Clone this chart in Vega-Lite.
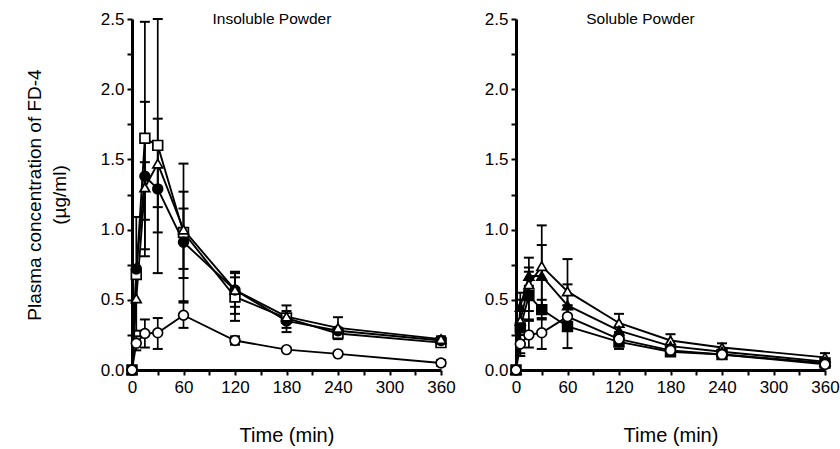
{
  "$schema": "https://vega.github.io/schema/vega-lite/v6.json",
  "background": "white",
  "padding": {"left": 25, "top": 10, "right": 0, "bottom": 5},
  "spacing": 28,
  "config": {
    "view": {"stroke": null},
    "font": "Liberation Sans",
    "axis": {
      "grid": false,
      "domainColor": "black",
      "domainWidth": 3,
      "tickColor": "black",
      "tickWidth": 2,
      "tickSize": 5,
      "labelFont": "Liberation Sans",
      "labelFontSize": 17,
      "labelColor": "black",
      "titleFont": "Liberation Sans",
      "titleFontSize": 19,
      "titleFontWeight": "normal",
      "titleColor": "black"
    }
  },
  "datasets": {
    "pts": [
      {"panel": "L", "series": "sq", "t": 0, "c": 0},
      {"panel": "L", "series": "sq", "t": 5, "c": 0.68},
      {"panel": "L", "series": "sq", "t": 15, "c": 1.65},
      {"panel": "L", "series": "sq", "t": 30, "c": 1.6},
      {"panel": "L", "series": "sq", "t": 60, "c": 0.98},
      {"panel": "L", "series": "sq", "t": 120, "c": 0.52},
      {"panel": "L", "series": "sq", "t": 180, "c": 0.37},
      {"panel": "L", "series": "sq", "t": 240, "c": 0.26},
      {"panel": "L", "series": "sq", "t": 360, "c": 0.195},
      {"panel": "L", "series": "fc", "t": 0, "c": 0},
      {"panel": "L", "series": "fc", "t": 5, "c": 0.72},
      {"panel": "L", "series": "fc", "t": 15, "c": 1.38},
      {"panel": "L", "series": "fc", "t": 30, "c": 1.29},
      {"panel": "L", "series": "fc", "t": 60, "c": 0.91},
      {"panel": "L", "series": "fc", "t": 120, "c": 0.57},
      {"panel": "L", "series": "fc", "t": 180, "c": 0.35},
      {"panel": "L", "series": "fc", "t": 240, "c": 0.28},
      {"panel": "L", "series": "fc", "t": 360, "c": 0.21},
      {"panel": "L", "series": "ot", "t": 0, "c": 0},
      {"panel": "L", "series": "ot", "t": 5, "c": 0.51},
      {"panel": "L", "series": "ot", "t": 15, "c": 1.3},
      {"panel": "L", "series": "ot", "t": 30, "c": 1.47},
      {"panel": "L", "series": "ot", "t": 60, "c": 1.0},
      {"panel": "L", "series": "ot", "t": 120, "c": 0.57},
      {"panel": "L", "series": "ot", "t": 180, "c": 0.38},
      {"panel": "L", "series": "ot", "t": 240, "c": 0.3},
      {"panel": "L", "series": "ot", "t": 360, "c": 0.22},
      {"panel": "L", "series": "oc", "t": 0, "c": 0},
      {"panel": "L", "series": "oc", "t": 5, "c": 0.19},
      {"panel": "L", "series": "oc", "t": 15, "c": 0.26},
      {"panel": "L", "series": "oc", "t": 30, "c": 0.265},
      {"panel": "L", "series": "oc", "t": 60, "c": 0.39},
      {"panel": "L", "series": "oc", "t": 120, "c": 0.21},
      {"panel": "L", "series": "oc", "t": 180, "c": 0.145},
      {"panel": "L", "series": "oc", "t": 240, "c": 0.115},
      {"panel": "L", "series": "oc", "t": 360, "c": 0.05},
      {"panel": "R", "series": "ot", "t": 0, "c": 0},
      {"panel": "R", "series": "ot", "t": 5, "c": 0.35},
      {"panel": "R", "series": "ot", "t": 15, "c": 0.61},
      {"panel": "R", "series": "ot", "t": 30, "c": 0.74},
      {"panel": "R", "series": "ot", "t": 60, "c": 0.56},
      {"panel": "R", "series": "ot", "t": 120, "c": 0.335},
      {"panel": "R", "series": "ot", "t": 180, "c": 0.21},
      {"panel": "R", "series": "ot", "t": 240, "c": 0.16},
      {"panel": "R", "series": "ot", "t": 360, "c": 0.09},
      {"panel": "R", "series": "ft", "t": 0, "c": 0},
      {"panel": "R", "series": "ft", "t": 5, "c": 0.45},
      {"panel": "R", "series": "ft", "t": 15, "c": 0.67},
      {"panel": "R", "series": "ft", "t": 30, "c": 0.67},
      {"panel": "R", "series": "ft", "t": 60, "c": 0.46},
      {"panel": "R", "series": "ft", "t": 120, "c": 0.28},
      {"panel": "R", "series": "ft", "t": 180, "c": 0.17},
      {"panel": "R", "series": "ft", "t": 240, "c": 0.13},
      {"panel": "R", "series": "ft", "t": 360, "c": 0.06},
      {"panel": "R", "series": "fs", "t": 0, "c": 0},
      {"panel": "R", "series": "fs", "t": 5, "c": 0.3},
      {"panel": "R", "series": "fs", "t": 15, "c": 0.53},
      {"panel": "R", "series": "fs", "t": 30, "c": 0.43},
      {"panel": "R", "series": "fs", "t": 60, "c": 0.31},
      {"panel": "R", "series": "fs", "t": 120, "c": 0.2},
      {"panel": "R", "series": "fs", "t": 180, "c": 0.13},
      {"panel": "R", "series": "fs", "t": 240, "c": 0.11},
      {"panel": "R", "series": "fs", "t": 360, "c": 0.05},
      {"panel": "R", "series": "oc", "t": 0, "c": 0},
      {"panel": "R", "series": "oc", "t": 5, "c": 0.185},
      {"panel": "R", "series": "oc", "t": 15, "c": 0.25},
      {"panel": "R", "series": "oc", "t": 30, "c": 0.265},
      {"panel": "R", "series": "oc", "t": 60, "c": 0.38},
      {"panel": "R", "series": "oc", "t": 120, "c": 0.22},
      {"panel": "R", "series": "oc", "t": 180, "c": 0.14},
      {"panel": "R", "series": "oc", "t": 240, "c": 0.11},
      {"panel": "R", "series": "oc", "t": 360, "c": 0.04}
    ],
    "err": [
      {"panel": "L", "series": "sq", "t": 5, "lo": 0.28, "hi": 1.09},
      {"panel": "L", "series": "sq", "t": 15, "lo": 0.81, "hi": 2.48},
      {"panel": "L", "series": "fc", "t": 15, "lo": 0.86, "hi": 1.91},
      {"panel": "L", "series": "ot", "t": 15, "lo": 1.07, "hi": 1.48},
      {"panel": "L", "series": "sq", "t": 30, "lo": 0.69, "hi": 2.5},
      {"panel": "L", "series": "ot", "t": 30, "lo": 1.16, "hi": 1.79},
      {"panel": "L", "series": "fc", "t": 30, "lo": 0.98, "hi": 1.6},
      {"panel": "L", "series": "sq", "t": 60, "lo": 0.49, "hi": 1.47},
      {"panel": "L", "series": "ot", "t": 60, "lo": 0.72, "hi": 1.27},
      {"panel": "L", "series": "fc", "t": 60, "lo": 0.655, "hi": 1.15},
      {"panel": "L", "series": "oc", "t": 5, "lo": 0.14, "hi": 0.24},
      {"panel": "L", "series": "oc", "t": 15, "lo": 0.16, "hi": 0.36},
      {"panel": "L", "series": "oc", "t": 30, "lo": 0.15, "hi": 0.37},
      {"panel": "L", "series": "oc", "t": 60, "lo": 0.3, "hi": 0.48},
      {"panel": "L", "series": "sq", "t": 120, "lo": 0.35, "hi": 0.7},
      {"panel": "L", "series": "fc", "t": 120, "lo": 0.45, "hi": 0.69},
      {"panel": "L", "series": "ot", "t": 120, "lo": 0.4, "hi": 0.66},
      {"panel": "L", "series": "oc", "t": 120, "lo": 0.18, "hi": 0.24},
      {"panel": "L", "series": "sq", "t": 180, "lo": 0.27, "hi": 0.46},
      {"panel": "L", "series": "fc", "t": 180, "lo": 0.3, "hi": 0.42},
      {"panel": "L", "series": "ot", "t": 240, "lo": 0.24, "hi": 0.376},
      {"panel": "L", "series": "sq", "t": 240, "lo": 0.22, "hi": 0.3},
      {"panel": "L", "series": "sq", "t": 360, "lo": 0.17, "hi": 0.23},
      {"panel": "L", "series": "ot", "t": 360, "lo": 0.19, "hi": 0.24},
      {"panel": "L", "series": "oc", "t": 360, "lo": 0.03, "hi": 0.07},
      {"panel": "R", "series": "ft", "t": 5, "lo": 0.36, "hi": 0.55},
      {"panel": "R", "series": "fs", "t": 5, "lo": 0.1, "hi": 0.5},
      {"panel": "R", "series": "oc", "t": 5, "lo": 0.12, "hi": 0.25},
      {"panel": "R", "series": "ot", "t": 15, "lo": 0.42, "hi": 0.8},
      {"panel": "R", "series": "ft", "t": 15, "lo": 0.6, "hi": 0.73},
      {"panel": "R", "series": "fs", "t": 15, "lo": 0.36, "hi": 0.7},
      {"panel": "R", "series": "oc", "t": 15, "lo": 0.16, "hi": 0.35},
      {"panel": "R", "series": "ot", "t": 30, "lo": 0.45, "hi": 1.03},
      {"panel": "R", "series": "ft", "t": 30, "lo": 0.45, "hi": 0.89},
      {"panel": "R", "series": "fs", "t": 30, "lo": 0.36, "hi": 0.5},
      {"panel": "R", "series": "oc", "t": 30, "lo": 0.15, "hi": 0.37},
      {"panel": "R", "series": "ot", "t": 60, "lo": 0.31, "hi": 0.79},
      {"panel": "R", "series": "ft", "t": 60, "lo": 0.31, "hi": 0.61},
      {"panel": "R", "series": "fs", "t": 60, "lo": 0.156, "hi": 0.46},
      {"panel": "R", "series": "oc", "t": 60, "lo": 0.3, "hi": 0.46},
      {"panel": "R", "series": "ot", "t": 120, "lo": 0.27, "hi": 0.4},
      {"panel": "R", "series": "fs", "t": 120, "lo": 0.15, "hi": 0.25},
      {"panel": "R", "series": "ot", "t": 180, "lo": 0.17, "hi": 0.255},
      {"panel": "R", "series": "fs", "t": 180, "lo": 0.1, "hi": 0.16},
      {"panel": "R", "series": "ot", "t": 240, "lo": 0.12, "hi": 0.19},
      {"panel": "R", "series": "ot", "t": 360, "lo": 0.06, "hi": 0.12},
      {"panel": "R", "series": "fs", "t": 360, "lo": 0.03, "hi": 0.07}
    ],
    "titles": [
      {"panel": "L", "label": "Insoluble Powder", "t": 163, "c": 2.5},
      {"panel": "R", "label": "Soluble Powder", "t": 145, "c": 2.5}
    ]
  },
  "hconcat": [
    {
      "width": 309,
      "height": 351,
      "encoding": {
        "x": {"field": "t", "type": "quantitative", "scale": {"domain": [0, 360], "nice": false, "zero": false},
          "axis": {"values": [0, 30, 60, 90, 120, 150, 180, 210, 240, 270, 300, 330, 360], "labelExpr": "datum.value % 60 == 0 ? datum.label : ''", "title": "Time (min)", "titleFontSize": 20, "titlePadding": 30, "labelPadding": 4, "labelFlush": false}},
        "y": {"field": "c", "type": "quantitative", "scale": {"domain": [0, 2.5], "nice": false},
          "axis": {"values": [0, 0.25, 0.5, 0.75, 1, 1.25, 1.5, 1.75, 2, 2.25, 2.5], "labelExpr": "abs(datum.value*2 - round(datum.value*2)) < 0.001 ? format(datum.value, '.1f') : ''", "title": ["Plasma concentration of FD-4", "(µg/ml)"], "titleLineHeight": 25, "titlePadding": 31, "labelPadding": 3}}
      },
      "layer": [
        {"data": {"name": "err"}, "transform": [{"filter": "datum.panel == 'L'"}], "mark": {"type": "rule", "color": "black", "strokeWidth": 1.7}, "encoding": {"y": {"field": "lo", "type": "quantitative"}, "y2": {"field": "hi"}}},
        {"data": {"name": "err"}, "transform": [{"filter": "datum.panel == 'L'"}], "mark": {"type": "tick", "orient": "horizontal", "color": "black", "size": 10, "thickness": 2, "opacity": 1}, "encoding": {"y": {"field": "lo", "type": "quantitative"}}},
        {"data": {"name": "err"}, "transform": [{"filter": "datum.panel == 'L'"}], "mark": {"type": "tick", "orient": "horizontal", "color": "black", "size": 10, "thickness": 2, "opacity": 1}, "encoding": {"y": {"field": "hi", "type": "quantitative"}}},
        {"data": {"name": "pts"}, "transform": [{"filter": "datum.panel == 'L'"}], "mark": {"type": "line", "color": "black", "strokeWidth": 1.9}, "encoding": {"detail": {"field": "series"}}},
        {"data": {"name": "pts"}, "transform": [{"filter": "datum.panel == 'L'"}], "mark": {"type": "point", "stroke": "black", "strokeWidth": 1.7, "size": 95, "opacity": 1, "filled": false},
          "encoding": {
            "shape": {"field": "series", "type": "nominal", "scale": {"domain": ["sq", "fc", "ot", "oc", "ft", "fs"], "range": ["square", "circle", "triangle-up", "circle", "triangle-up", "square"]}, "legend": null},
            "fill": {"field": "series", "type": "nominal", "scale": {"domain": ["sq", "fc", "ot", "oc", "ft", "fs"], "range": ["white", "black", "white", "white", "black", "black"]}, "legend": null}
          }},
        {"data": {"name": "titles"}, "transform": [{"filter": "datum.panel == 'L'"}], "mark": {"type": "text", "fontSize": 15.5, "font": "Liberation Sans", "color": "black", "baseline": "middle", "align": "center"}, "encoding": {"text": {"field": "label"}}}
      ]
    },
    {
      "width": 309,
      "height": 351,
      "encoding": {
        "x": {"field": "t", "type": "quantitative", "scale": {"domain": [0, 360], "nice": false, "zero": false},
          "axis": {"values": [0, 30, 60, 90, 120, 150, 180, 210, 240, 270, 300, 330, 360], "labelExpr": "datum.value % 60 == 0 ? datum.label : ''", "title": "Time (min)", "titleFontSize": 20, "titlePadding": 30, "labelPadding": 4, "labelFlush": false}},
        "y": {"field": "c", "type": "quantitative", "scale": {"domain": [0, 2.5], "nice": false},
          "axis": {"values": [0, 0.25, 0.5, 0.75, 1, 1.25, 1.5, 1.75, 2, 2.25, 2.5], "labelExpr": "abs(datum.value*2 - round(datum.value*2)) < 0.001 ? format(datum.value, '.1f') : ''", "title": null, "labelPadding": 3}}
      },
      "layer": [
        {"data": {"name": "err"}, "transform": [{"filter": "datum.panel == 'R'"}], "mark": {"type": "rule", "color": "black", "strokeWidth": 1.7}, "encoding": {"y": {"field": "lo", "type": "quantitative"}, "y2": {"field": "hi"}}},
        {"data": {"name": "err"}, "transform": [{"filter": "datum.panel == 'R'"}], "mark": {"type": "tick", "orient": "horizontal", "color": "black", "size": 10, "thickness": 2, "opacity": 1}, "encoding": {"y": {"field": "lo", "type": "quantitative"}}},
        {"data": {"name": "err"}, "transform": [{"filter": "datum.panel == 'R'"}], "mark": {"type": "tick", "orient": "horizontal", "color": "black", "size": 10, "thickness": 2, "opacity": 1}, "encoding": {"y": {"field": "hi", "type": "quantitative"}}},
        {"data": {"name": "pts"}, "transform": [{"filter": "datum.panel == 'R'"}], "mark": {"type": "line", "color": "black", "strokeWidth": 1.9}, "encoding": {"detail": {"field": "series"}}},
        {"data": {"name": "pts"}, "transform": [{"filter": "datum.panel == 'R'"}], "mark": {"type": "point", "stroke": "black", "strokeWidth": 1.7, "size": 95, "opacity": 1, "filled": false},
          "encoding": {
            "shape": {"field": "series", "type": "nominal", "scale": {"domain": ["sq", "fc", "ot", "oc", "ft", "fs"], "range": ["square", "circle", "triangle-up", "circle", "triangle-up", "square"]}, "legend": null},
            "fill": {"field": "series", "type": "nominal", "scale": {"domain": ["sq", "fc", "ot", "oc", "ft", "fs"], "range": ["white", "black", "white", "white", "black", "black"]}, "legend": null}
          }},
        {"data": {"name": "titles"}, "transform": [{"filter": "datum.panel == 'R'"}], "mark": {"type": "text", "fontSize": 15.5, "font": "Liberation Sans", "color": "black", "baseline": "middle", "align": "center"}, "encoding": {"text": {"field": "label"}}}
      ]
    }
  ]
}
